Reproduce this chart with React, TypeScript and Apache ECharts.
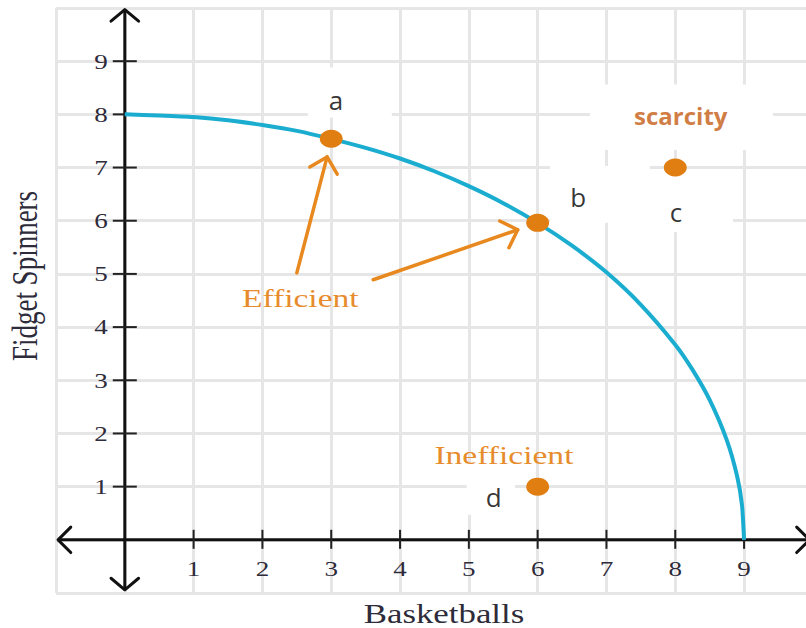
import React, { useEffect, useRef } from "react";
import * as echarts from "echarts";

// Production possibility frontier
const curveX = [0, 0.5, 1, 1.5, 2, 2.5, 3, 3.5, 4, 4.5, 5, 5.5, 6, 6.5, 7, 7.5, 8, 8.25, 8.5, 8.75, 8.9, 8.97, 9];
const curveY = [8, 7.98, 7.95, 7.89, 7.8, 7.69, 7.54, 7.37, 7.17, 6.93, 6.65, 6.33, 5.96, 5.53, 5.03, 4.42, 3.67, 3.2, 2.63, 1.87, 1.19, 0.65, 0];

// Labelled points a, b, c, d
const pointX = [3, 6, 8, 6];
const pointY = [7.54, 5.96, 7, 1];

// Letter labels
const letterText = ["a", "b", "c", "d"];
const letterX = [3.07, 6.59, 8.01, 5.36];
const letterY = [8.27, 6.45, 6.17, 0.81];

// Serif notes
const noteText = ["Efficient", "Inefficient"];
const noteX = [2.55, 5.51];
const noteY = [4.55, 1.6];

// Headline note
const headText = ["scarcity"];
const headX = [8.08];
const headY = [7.97];

// White patches behind pasted labels (a, b, c, d, scarcity)
const boxX0 = [2.66, 6.18, 7.63, 4.97, 6.76];
const boxX1 = [3.88, 7.63, 8.84, 5.67, 9.42];
const boxYTop = [8.88, 7.03, 6.86, 1.45, 8.56];
const boxYBot = [7.94, 5.96, 5.79, 0.47, 7.33];

// Pointer arrows from "Efficient"
const arrowFromX = [2.5, 3.61];
const arrowFromY = [5.02, 4.89];
const arrowToX = [2.94, 5.71];
const arrowToY = [7.2, 5.83];

// Axes
const xTickValues = [1, 2, 3, 4, 5, 6, 7, 8, 9];
const xTickLabels = ["1", "2", "3", "4", "5", "6", "7", "8", "9"];
const yTickValues = [1, 2, 3, 4, 5, 6, 7, 8, 9];
const yTickLabels = ["1", "2", "3", "4", "5", "6", "7", "8", "9"];
const xAxisEnds = [-0.97, 9.95];
const yAxisEnds = [-0.94, 9.97];
const xMin = -1;
const xMax = 9.9;
const yMin = -1;
const yMax = 10;
const xTitle = "Basketballs";
const yTitle = "Fidget Spinners";

const STRETCH = 1.29;
const SERIF = '"Liberation Serif", "Times New Roman", serif';
const SANS = '"Open Sans", "Liberation Sans", sans-serif';

function chevron(tip: number[], back: number[], len: number, angDeg: number, stroke: string, lw: number) {
  const a = (angDeg * Math.PI) / 180;
  const rot = (s: number) => [
    back[0] * Math.cos(s * a) - back[1] * Math.sin(s * a),
    back[0] * Math.sin(s * a) + back[1] * Math.cos(s * a),
  ];
  const w1 = rot(1);
  const w2 = rot(-1);
  return {
    type: "polyline",
    shape: {
      points: [
        [tip[0] + w1[0] * len, tip[1] + w1[1] * len],
        [tip[0], tip[1]],
        [tip[0] + w2[0] * len, tip[1] + w2[1] * len],
      ],
    },
    style: { stroke, lineWidth: lw, fill: null, lineCap: "round", lineJoin: "round" },
  };
}

export default function App() {
  const ref = useRef<HTMLDivElement>(null);

  useEffect(() => {
    if (!ref.current) return;
    const chart = echarts.init(ref.current, undefined, { renderer: "svg" });

    const axisColor = "#111111";
    const labelColor = "#2e2b3a";
    const orange = "#e07e12";
    const noteOrange = "#e78c2c";

    const option: any = {
      animation: false,
      backgroundColor: "#ffffff",
      grid: { left: 56, right: 0, top: 8, bottom: 35 },
      xAxis: {
        type: "value",
        min: xMin,
        max: xMax,
        interval: 1,
        axisLine: { show: false },
        axisTick: { show: false },
        axisLabel: { show: false },
        splitLine: { show: true, showMaxLine: false, lineStyle: { color: "#e6e6e6", width: 3 } },
      },
      yAxis: {
        type: "value",
        min: yMin,
        max: yMax,
        interval: 1,
        axisLine: { show: false },
        axisTick: { show: false },
        axisLabel: { show: false },
        splitLine: { show: true, lineStyle: { color: "#e6e6e6", width: 3 } },
      },
      graphic: [
        {
          type: "text",
          x: 444,
          y: 614,
          scaleX: STRETCH,
          style: {
            text: xTitle,
            fontFamily: SERIF,
            fontSize: 27,
            fill: labelColor,
            align: "center",
            verticalAlign: "middle",
          },
        },
        {
          type: "text",
          x: 25,
          y: 276,
          rotation: Math.PI / 2,
          scaleY: STRETCH,
          style: {
            text: yTitle,
            fontFamily: SERIF,
            fontSize: 27,
            fill: labelColor,
            align: "center",
            verticalAlign: "middle",
          },
        },
      ],
      series: [
        {
          name: "patches",
          type: "custom",
          z: 1,
          silent: true,
          data: boxX0.map((x0, i) => [x0, boxYTop[i], boxX1[i], boxYBot[i]]),
          encode: { x: [0, 2], y: [1, 3] },
          renderItem: (params: any, api: any) => {
            const p0 = api.coord([api.value(0), api.value(1)]);
            const p1 = api.coord([api.value(2), api.value(3)]);
            return {
              type: "rect",
              shape: { x: p0[0], y: p0[1], width: p1[0] - p0[0], height: p1[1] - p0[1] },
              style: { fill: "#ffffff" },
            };
          },
        },
        {
          name: "axes",
          type: "custom",
          z: 2,
          silent: true,
          clip: false,
          data: [[0, 0]],
          renderItem: (params: any, api: any) => {
            const l = api.coord([xAxisEnds[0], 0]);
            const r = api.coord([xAxisEnds[1], 0]);
            const b = api.coord([0, yAxisEnds[0]]);
            const t = api.coord([0, yAxisEnds[1]]);
            const children: any[] = [
              { type: "line", shape: { x1: l[0], y1: l[1], x2: r[0], y2: r[1] }, style: { stroke: axisColor, lineWidth: 3 } },
              { type: "line", shape: { x1: b[0], y1: b[1], x2: t[0], y2: t[1] }, style: { stroke: axisColor, lineWidth: 3 } },
              chevron(l, [1, 0], 18, 45, axisColor, 3),
              chevron(r, [-1, 0], 18, 45, axisColor, 3),
              chevron(t, [0, 1], 18, 50, axisColor, 3),
              chevron(b, [0, -1], 18, 50, axisColor, 3),
            ];
            xTickValues.forEach((v, i) => {
              const p = api.coord([v, 0]);
              children.push({
                type: "line",
                shape: { x1: p[0], y1: p[1] - 10, x2: p[0], y2: p[1] + 9 },
                style: { stroke: "#222222", lineWidth: 2 },
              });
              children.push({
                type: "text",
                x: p[0],
                y: p[1] + 29,
                scaleX: STRETCH,
                style: {
                  text: xTickLabels[i],
                  fontFamily: SERIF,
                  fontSize: 21,
                  fill: labelColor,
                  align: "center",
                  verticalAlign: "middle",
                },
              });
            });
            yTickValues.forEach((v, i) => {
              const p = api.coord([0, v]);
              children.push({
                type: "line",
                shape: { x1: p[0] - 12, y1: p[1], x2: p[0] + 12, y2: p[1] },
                style: { stroke: "#222222", lineWidth: 2 },
              });
              children.push({
                type: "text",
                x: p[0] - 17,
                y: p[1],
                scaleX: STRETCH,
                style: {
                  text: yTickLabels[i],
                  fontFamily: SERIF,
                  fontSize: 21,
                  fill: labelColor,
                  align: "right",
                  verticalAlign: "middle",
                },
              });
            });
            return { type: "group", children };
          },
        },
        {
          name: "PPF",
          type: "line",
          z: 3,
          smooth: 0.2,
          showSymbol: false,
          silent: true,
          data: curveX.map((x, i) => [x, curveY[i]]),
          lineStyle: { color: "#1badd0", width: 4 },
        },
        {
          name: "points",
          type: "scatter",
          z: 4,
          symbol: "circle",
          symbolSize: [23, 18],
          itemStyle: { color: orange, opacity: 1 },
          data: pointX.map((x, i) => [x, pointY[i]]),
        },
        {
          name: "arrows",
          type: "custom",
          z: 5,
          silent: true,
          data: arrowFromX.map((x, i) => [x, arrowFromY[i], arrowToX[i], arrowToY[i]]),
          encode: { x: [0, 2], y: [1, 3] },
          renderItem: (params: any, api: any) => {
            const a = api.coord([api.value(0), api.value(1)]);
            const b = api.coord([api.value(2), api.value(3)]);
            const dx = a[0] - b[0];
            const dy = a[1] - b[1];
            const d = Math.sqrt(dx * dx + dy * dy);
            const back = [dx / d, dy / d];
            return {
              type: "group",
              children: [
                {
                  type: "line",
                  shape: { x1: a[0], y1: a[1], x2: b[0], y2: b[1] },
                  style: { stroke: "#e8891f", lineWidth: 3.5, lineCap: "round" },
                },
                chevron(b, back, 20, 45, "#e8891f", 3.5),
              ],
            };
          },
        },
        {
          name: "notes",
          type: "custom",
          z: 6,
          silent: true,
          data: noteX.map((x, i) => [x, noteY[i], i]),
          renderItem: (params: any, api: any) => {
            const p = api.coord([api.value(0), api.value(1)]);
            return {
              type: "text",
              x: p[0],
              y: p[1],
              scaleX: STRETCH,
              style: {
                text: noteText[params.dataIndex],
                fontFamily: SERIF,
                fontSize: 26,
                fill: noteOrange,
                align: "center",
                verticalAlign: "middle",
              },
            };
          },
        },
        {
          name: "letters",
          type: "scatter",
          z: 6,
          silent: true,
          symbolSize: 0,
          data: letterX.map((x, i) => [x, letterY[i]]),
          label: {
            show: true,
            position: "inside",
            formatter: (p: any) => letterText[p.dataIndex],
            fontFamily: SANS,
            fontSize: 26,
            color: "#000000",
          },
        },
        {
          name: "headline",
          type: "scatter",
          z: 6,
          silent: true,
          symbolSize: 0,
          data: headX.map((x, i) => [x, headY[i]]),
          label: {
            show: true,
            position: "inside",
            formatter: (p: any) => headText[p.dataIndex],
            fontFamily: SANS,
            fontWeight: "bold",
            fontSize: 24,
            color: "#c55a11",
          },
        },
      ],
    };

    chart.setOption(option);
    return () => chart.dispose();
  }, []);

  return (
    <div
      ref={ref}
      style={{ position: "absolute", left: 0, top: 0, width: 806, height: 628, background: "#ffffff" }}
    />
  );
}
